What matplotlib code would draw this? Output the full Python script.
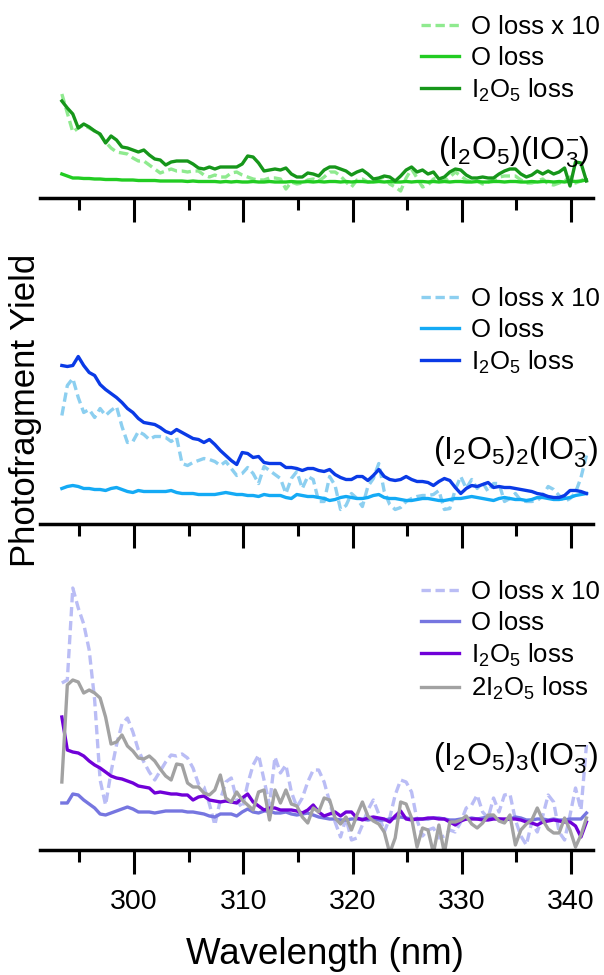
import numpy as np
import matplotlib
matplotlib.use("Agg")
import matplotlib.pyplot as plt
from matplotlib.ticker import MultipleLocator

plt.rcParams['font.family'] = ['Liberation Sans', 'DejaVu Sans']
plt.rcParams['mathtext.fontset'] = 'custom'
plt.rcParams['mathtext.rm'] = 'Liberation Sans'
plt.rcParams['mathtext.it'] = 'Liberation Sans:italic'
plt.rcParams['mathtext.bf'] = 'Liberation Sans:bold'

# wavelength grid (nm), 0.5 nm steps
wavelength = np.arange(293.4, 341.45, 0.5)

# --- (I2O5)(IO3-) ---
n1_o10 = [104, 85, 66, 70, 73, 70, 67, 63, 56, 50,
          46, 45, 44, 40, 37, 37, 33, 29, 25, 27,
          29, 27, 27, 26, 27, 27, 23, 21, 23, 21,
          21, 25, 26, 23, 21, 19, 18, 18, 20, 20,
          19, 9, 16, 14, 15, 18, 19, 17, 21, 26,
          26, 22, 16, 11, 18, 19, 16, 17, 19, 21,
          14, 11, 7, 20, 29, 20, 11, 13, 19, 20,
          17, 21, 26, 22, 18, 16, 17, 14, 16, 18,
          21, 22, 22, 22, 18, 15, 15, 17, 19, 14,
          13, 15, 17, 21, 15, 17, 21]
n1_o = [24, 22, 20, 20, 19.5, 19.5, 19, 19, 18.5, 18.5,
        18.5, 18, 18, 18, 17.5, 17.5, 17.5, 17.5, 17, 17,
        17, 17, 17, 16.5, 17, 16.5, 16.5, 16.5, 16.5, 16,
        16.5, 16, 16.5, 16, 16, 16.5, 16, 16, 16.5, 16,
        16, 16, 16.5, 16, 16, 16.5, 16, 16.5, 16, 16.5,
        16.5, 16, 16.5, 16, 16.5, 16.5, 16, 16, 16.5, 16,
        16.5, 16, 16, 16.5, 16, 16.5, 16.5, 16, 16.5, 16,
        16.5, 16, 16.5, 16.5, 16, 16, 16.5, 16, 16, 16.5,
        16.5, 16, 16.5, 16.5, 16, 16, 16.5, 16, 16.5, 16.5,
        16, 16.5, 16, 17, 16.5, 17, 18]
n1_i2o5 = [97, 90, 84, 70, 74, 71, 67, 64, 55, 62,
           58, 51, 50, 48, 46, 48, 43, 39, 38, 33,
           36, 37, 37, 37, 34, 30, 29, 31, 29, 31,
           31, 31, 31, 34, 42, 41, 35, 27, 28, 29,
           28, 30, 24, 21, 21, 25, 24, 22, 28, 31,
           31, 29, 27, 23, 26, 28, 24, 19, 20, 22,
           21, 17, 22, 28, 31, 26, 28, 24, 26, 19,
           21, 26, 29, 28, 23, 20, 20, 21, 20, 20,
           24, 27, 29, 29, 24, 21, 23, 27, 24, 27,
           24, 26, 30, 12, 36, 35, 17]

# --- (I2O5)2(IO3-) ---
n2_o10 = [108, 138, 145, 126, 111, 114, 106, 115, 108, 113,
          117, 97, 81, 82, 92, 89, 84, 87, 87, 86,
          82, 86, 60, 58, 61, 63, 65, 64, 62, 58,
          62, 55, 48, 50, 56, 50, 40, 57, 53, 49,
          45, 30, 45, 52, 35, 47, 44, 22, 22, 47,
          38, 14, 18, 30, 25, 17, 37, 45, 60, 32,
          19, 14, 16, 22, 25, 27, 28, 28, 29, 33,
          14, 15, 34, 47, 35, 44, 35, 41, 32, 40,
          40, 22, 25, 30, 23, 22, 22, 23, 28, 37,
          34, 28, 22, 25, 31, 46, 68]
n2_o = [35, 37, 38, 37, 35, 35, 34, 34, 33, 35,
        36, 34, 32, 31, 33, 32, 32, 32, 32, 32,
        33, 31, 30, 30, 30, 29, 29, 29, 29, 30,
        31, 30, 29, 29, 28, 28, 27, 29, 28, 28,
        28, 26, 25, 29, 28, 27, 27, 26, 25, 23,
        24, 26, 27, 26, 25, 25, 26, 28, 29, 26,
        25, 25, 24, 23, 23, 24, 25, 25, 24, 23,
        23, 24, 25, 25, 26, 27, 26, 25, 24, 23,
        25, 26, 25, 24, 24, 23, 24, 26, 26, 25,
        24, 24, 25, 26, 28, 29, 30]
n2_i2o5 = [158, 157, 158, 167, 158, 151, 148, 139, 134, 130,
           126, 121, 115, 111, 105, 101, 100, 99, 96, 92,
           90, 94, 91, 88, 85, 84, 81, 84, 79, 73,
           68, 63, 59, 71, 70, 66, 67, 61, 60, 60,
           60, 56, 56, 55, 53, 55, 55, 53, 52, 54,
           49, 46, 44, 44, 47, 47, 43, 48, 54, 47,
           44, 43, 44, 47, 44, 42, 42, 41, 38, 42,
           45, 43, 36, 30, 35, 38, 37, 39, 41, 36,
           37, 36, 36, 35, 34, 33, 32, 30, 29, 27,
           26, 26, 28, 33, 33, 32, 30]

# --- (I2O5)3(IO3-) ---
n3_o10 = [167, 170, 262, 242, 226, 200, 150, 70, 45, 78,
          105, 126, 132, 118, 100, 88, 78, 70, 79, 88,
          95, 94, 96, 92, 82, 66, 63, 46, 25, 50,
          68, 72, 50, 42, 66, 85, 95, 70, 45, 93,
          77, 85, 58, 43, 52, 68, 80, 80, 68, 48,
          28, 13, 32, 10, 12, 25, 40, 50, 36, 18,
          32, 55, 70, 68, 58, 30, 14, 20, 22, 12,
          14, 20, 18, 28, 42, 45, 55, 38, 32, 52,
          38, 55, 56, 30, 14, 5, 28, 18, 34, 55,
          48, 18, 10, 35, 62, 40, 105]
n3_o = [47, 47, 56, 55, 50, 46, 42, 36, 35, 37,
        39, 41, 43, 41, 38, 38, 38, 37, 38, 39,
        39, 39, 39, 38, 38, 37, 36, 34, 33, 36,
        36, 36, 34, 38, 41, 38, 37, 39, 39, 37,
        37, 38, 36, 35, 36, 37, 35, 33, 32, 31,
        31, 30, 30, 31, 31, 31, 30, 31, 30, 30,
        31, 32, 33, 32, 31, 31, 31, 31, 32, 32,
        31, 30, 30, 31, 31, 32, 31, 32, 33, 32,
        31, 30, 31, 33, 32, 30, 30, 31, 31, 30,
        31, 30, 30, 31, 31, 31, 37]
n3_i2o5 = [133, 100, 98, 97, 94, 89, 85, 82, 78, 74,
           72, 71, 69, 67, 64, 63, 62, 57, 58, 57,
           56, 56, 55, 55, 50, 53, 54, 50, 49, 48,
           49, 48, 47, 52, 56, 48, 44, 40, 42, 42,
           40, 40, 40, 39, 37, 40, 45, 38, 34, 36,
           38, 34, 38, 38, 32, 30, 32, 33, 32, 31,
           28, 34, 39, 31, 30, 31, 31, 32, 32, 31,
           31, 28, 25, 29, 31, 31, 31, 30, 30, 31,
           31, 31, 31, 31, 30, 28, 27, 25, 28, 29,
           30, 29, 28, 28, 24, 13, 28]
n3_2i2o5 = [68, 165, 170, 168, 157, 160, 157, 152, 133, 106,
            108, 115, 104, 99, 92, 91, 94, 89, 81, 74,
            70, 86, 85, 67, 63, 63, 57, 55, 60, 75,
            52, 48, 58, 50, 45, 40, 58, 60, 30, 60,
            47, 60, 46, 44, 33, 27, 42, 38, 52, 50,
            32, 26, 33, 20, 35, 48, 34, 29, 26, 18,
            -3, 12, 48, 46, 32, 3, 22, 20, -3, 25,
            -3, 28, 28, 30, 34, 26, 22, 27, 35, 35,
            29, 27, 35, 5, 20, 26, 30, 42, 30, 21,
            17, 17, 32, 20, 3, 15, 32]

labels = ['O loss x 10', 'O loss', 'I$_2$O$_5$ loss', '2I$_2$O$_5$ loss']
cluster_names = ['(I$_2$O$_5$)(IO$_3^{-}$)',
                 '(I$_2$O$_5$)$_2$(IO$_3^{-}$)',
                 '(I$_2$O$_5$)$_3$(IO$_3^{-}$)']

panels = [
    ([n1_o10, n1_o, n1_i2o5], ['#8fea8f', '#22cc22', '#16961a']),
    ([n2_o10, n2_o, n2_i2o5], ['#8ccff0', '#14aaf5', '#0a3ae6']),
    ([n3_o10, n3_o, n3_i2o5, n3_2i2o5], ['#babdf5', '#7676e0', '#7000d8', '#a2a2a2']),
]

W, H = 604, 975
fig = plt.figure(figsize=(W / 100, H / 100), dpi=100)

# axes boxes in pixels: (spine y, top y)
boxes = [(198, 0), (523.5, 250), (850, 575)]
legend_tops = [15, 287, 580]
name_pos = [(590, 159), (598, 460), (598, 765)]

for k, (series, colors) in enumerate(panels):
    ybot, ytop = boxes[k]
    ax = fig.add_axes([40 / W, 1 - ybot / H, 553 / W, (ybot - ytop) / H])
    for j, (vals, c) in enumerate(zip(series, colors)):
        if j == 0:
            ax.plot(wavelength, vals, color=c, lw=2.4, ls=(0, (2.8, 1.4)), label=labels[j])
        else:
            ax.plot(wavelength, vals, color=c, lw=2.4, label=labels[j])
    ax.set_xlim(291.4, 342.0)
    ax.set_ylim(0, ybot - ytop)
    for s in ['left', 'right', 'top']:
        ax.spines[s].set_visible(False)
    ax.spines['bottom'].set_linewidth(2.5)
    ax.set_yticks([])
    ax.xaxis.set_major_locator(MultipleLocator(10))
    ax.xaxis.set_minor_locator(MultipleLocator(5))
    ax.tick_params(axis='x', which='major', direction='out', length=17, width=2.2,
                   labelsize=20.5, pad=11)
    ax.tick_params(axis='x', which='minor', direction='out', length=8.5, width=2.2)
    if k < 2:
        ax.tick_params(axis='x', labelbottom=False)

    ax.legend(loc='upper left', bbox_to_anchor=(421 / W, 1 - legend_tops[k] / H),
              bbox_transform=fig.transFigure, frameon=False, fontsize=18.5,
              handlelength=1.48, handletextpad=0.47, labelspacing=0.26,
              borderpad=0, borderaxespad=0)

    nx, ny = name_pos[k]
    fig.text(nx / W, 1 - ny / H, cluster_names[k], fontsize=23, ha='right', va='baseline')

fig.text(325 / W, 1 - 955 / H, 'Wavelength (nm)', fontsize=26.5, ha='center', va='center')
fig.text(26 / W, 1 - 410 / H, 'Photofragment Yield', fontsize=25, rotation=90,
         ha='center', va='center')

fig.savefig('out.png', dpi=100)
